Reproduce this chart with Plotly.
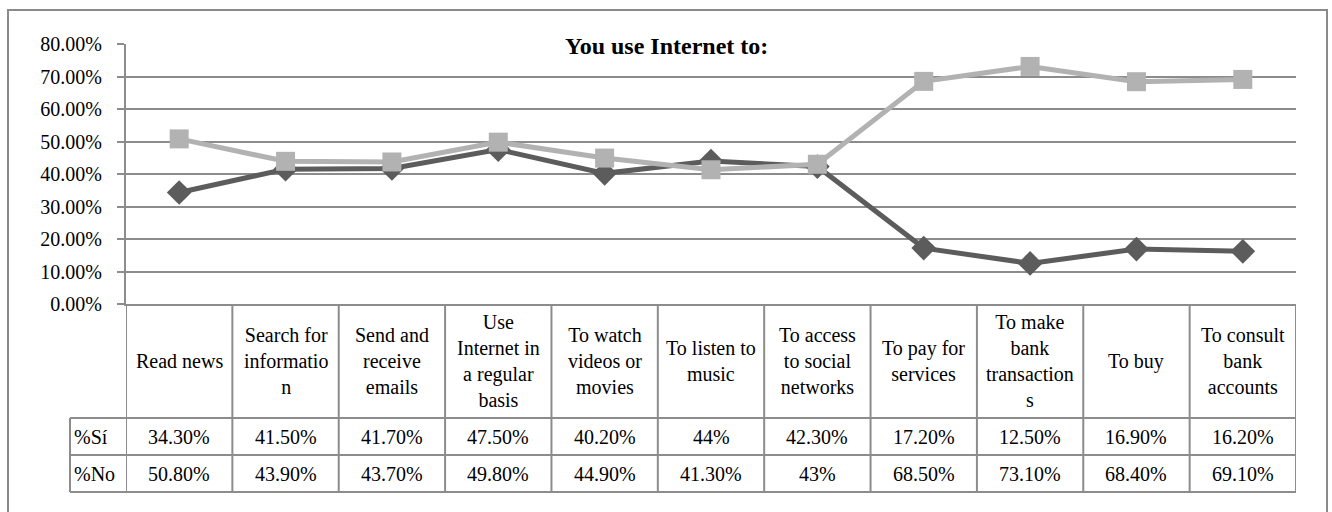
import plotly.graph_objects as go

categories = [
    "Read news",
    "Search for<br>informatio<br>n",
    "Send and<br>receive<br>emails",
    "Use<br>Internet in<br>a regular<br>basis",
    "To watch<br>videos or<br>movies",
    "To listen to<br>music",
    "To access<br>to social<br>networks",
    "To pay for<br>services",
    "To make<br>bank<br>transaction<br>s",
    "To buy",
    "To consult<br>bank<br>accounts",
]
si_values = [0.343, 0.415, 0.417, 0.475, 0.402, 0.44, 0.423, 0.172, 0.125, 0.169, 0.162]
no_values = [0.508, 0.439, 0.437, 0.498, 0.449, 0.413, 0.43, 0.685, 0.731, 0.684, 0.691]
si_labels = ["34.30%", "41.50%", "41.70%", "47.50%", "40.20%", "44%", "42.30%", "17.20%", "12.50%", "16.90%", "16.20%"]
no_labels = ["50.80%", "43.90%", "43.70%", "49.80%", "44.90%", "41.30%", "43%", "68.50%", "73.10%", "68.40%", "69.10%"]
row_names = ["%Sí", "%No"]
title_text = "You use Internet to:"

W, H = 1332, 512
FONT = "Liberation Serif"
FS = 20
GRID = "#8c8c8c"
DARK = "#5c5c5c"
LIGHT = "#b2b2b2"


def py(y):
    return 1 - y / H


def px(x):
    return x / W


X_LEFT, X_RIGHT = 126, 1296
Y_TOP, Y_ZERO = 44, 304
Y_HDR, Y_R1, Y_R2 = 418, 455, 492
X_LBL = 70

n = len(categories)
xs = list(range(n))

fig = go.Figure()
fig.add_trace(go.Scatter(
    x=xs, y=si_values, mode="lines+markers", name=row_names[0],
    line=dict(color=DARK, width=5),
    marker=dict(symbol="diamond", size=19, color=DARK),
))
fig.add_trace(go.Scatter(
    x=xs, y=no_values, mode="lines+markers", name=row_names[1],
    line=dict(color=LIGHT, width=5),
    marker=dict(symbol="square", size=19, color=LIGHT),
))

shapes = []
line_style = dict(color=GRID, width=2)
# outer border
shapes.append(dict(type="rect", xref="paper", yref="paper",
                   x0=px(8), x1=px(1327), y0=py(540), y1=py(10),
                   line=dict(color="#8a8a8a", width=2)))
# table vertical lines
for i in range(n + 1):
    shapes.append(dict(type="line", xref="x", yref="paper",
                       x0=i - 0.5, x1=i - 0.5, y0=py(Y_R2), y1=py(Y_ZERO),
                       line=line_style))
# label cell left border
shapes.append(dict(type="line", xref="paper", yref="paper",
                   x0=px(X_LBL), x1=px(X_LBL), y0=py(Y_R2), y1=py(Y_HDR),
                   line=line_style))
# horizontal table lines
for yy in (Y_HDR, Y_R1, Y_R2):
    shapes.append(dict(type="line", xref="paper", yref="paper",
                       x0=px(X_LBL), x1=px(X_RIGHT), y0=py(yy), y1=py(yy),
                       line=line_style))

annotations = []
tfont = dict(family=FONT, size=FS, color="black")
for i, c in enumerate(categories):
    annotations.append(dict(x=i, y=py((Y_ZERO + Y_HDR) / 2), xref="x", yref="paper",
                            text=c, showarrow=False, font=tfont,
                            xanchor="center", yanchor="middle", align="center"))
    annotations.append(dict(x=i, y=py((Y_HDR + Y_R1) / 2), xref="x", yref="paper",
                            text=si_labels[i], showarrow=False, font=tfont,
                            xanchor="center", yanchor="middle"))
    annotations.append(dict(x=i, y=py((Y_R1 + Y_R2) / 2), xref="x", yref="paper",
                            text=no_labels[i], showarrow=False, font=tfont,
                            xanchor="center", yanchor="middle"))
for k, (ya, yb) in enumerate(((Y_HDR, Y_R1), (Y_R1, Y_R2))):
    annotations.append(dict(x=px(X_LBL + 2), y=py((ya + yb) / 2), xref="paper", yref="paper",
                            text=row_names[k], showarrow=False, font=tfont,
                            xanchor="left", yanchor="middle"))
annotations.append(dict(x=px(667), y=py(46), xref="paper", yref="paper",
                        text="<b>" + title_text + "</b>", showarrow=False,
                        font=dict(family=FONT, size=24, color="black"),
                        xanchor="center", yanchor="middle"))

fig.update_layout(
    width=W, height=H,
    margin=dict(l=0, r=0, t=0, b=0, pad=0, autoexpand=False),
    paper_bgcolor="white", plot_bgcolor="white",
    showlegend=False,
    shapes=shapes,
    annotations=annotations,
    xaxis=dict(domain=[px(X_LEFT), px(X_RIGHT)], range=[-0.5, n - 0.5],
               showgrid=False, zeroline=False, showticklabels=False,
               showline=True, linecolor=GRID, linewidth=2, ticks="",
               automargin=False),
    yaxis=dict(domain=[py(Y_ZERO), py(Y_TOP)], range=[0, 0.8], dtick=0.1,
               tickformat=".2%", showgrid=True, gridcolor=GRID, gridwidth=1.5,
               zeroline=False, showline=True, linecolor=GRID, linewidth=2,
               ticks="outside", ticklen=7, tickcolor=GRID, tickwidth=1.5,
               ticklabelstandoff=11, automargin=False,
               tickfont=dict(family=FONT, size=FS, color="black")),
)

fig.write_html("out.html")
